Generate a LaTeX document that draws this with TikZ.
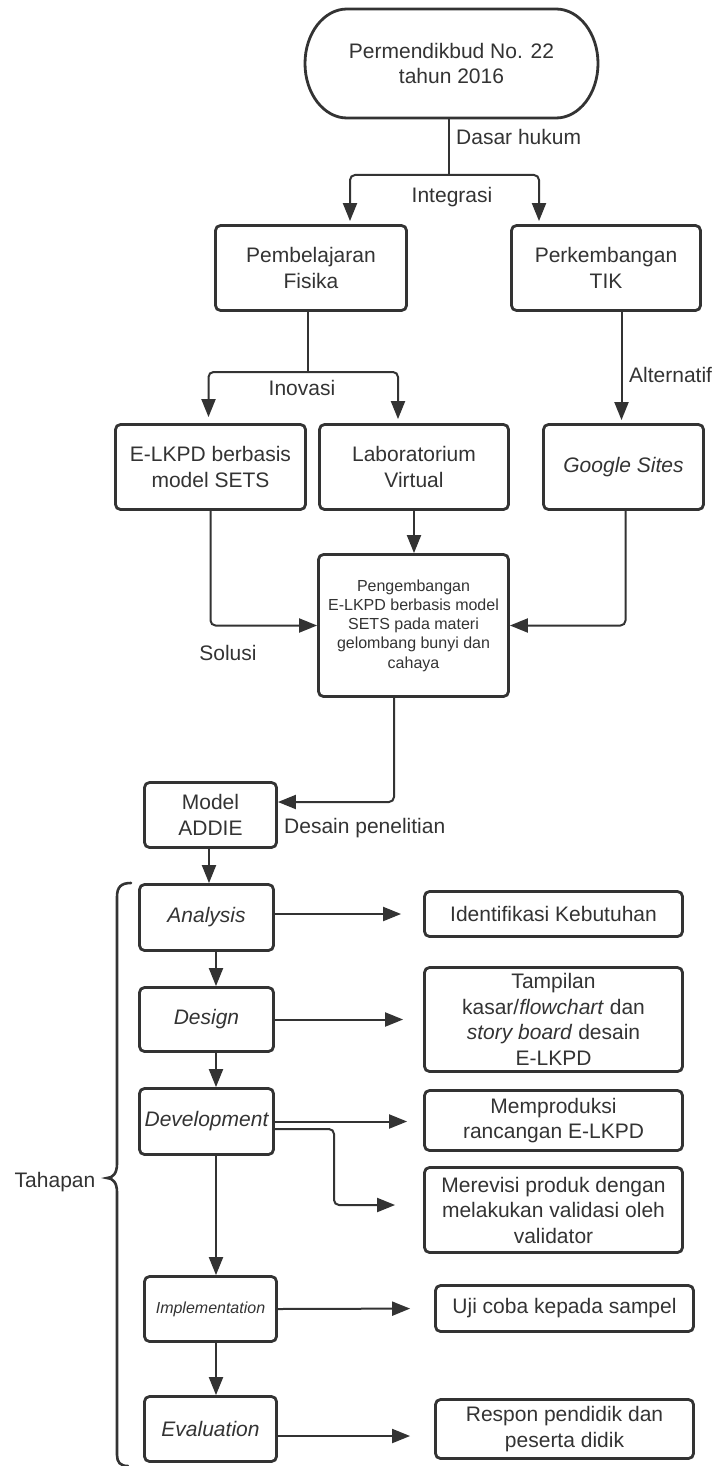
\documentclass[tikz,border=0pt]{standalone}
\usepackage{fontspec}
\setmainfont{Liberation Sans}
\usetikzlibrary{arrows.meta}
\definecolor{ink}{HTML}{333333}
\begin{document}
\begin{tikzpicture}[x=1pt,y=-1pt,
  box/.style={draw=ink, line width=2.8pt, rounded corners=5pt, inner sep=0pt, align=center, text=ink, font=\fontsize{21}{25.5}\selectfont},
  lbl/.style={text=ink, inner sep=0pt, font=\fontsize{21}{25.5}\selectfont},
  conn/.style={draw=ink, line width=2pt, rounded corners=5pt},
  arr/.style={conn, -{Triangle[length=18pt,width=14pt]}},
  brace/.style={draw=ink, line width=2.6pt, line cap=round},
]
\useasboundingbox (0,0) rectangle (724,1466);

% top terminator
\node[lbl, align=center, minimum width=293pt, minimum height=109pt] (pill) at (451.5,63.5) {Permendikbud No. 22\\tahun 2016};
\draw[ink, line width=2.8pt] (347,9) -- (556,9)
  .. controls (579.2,9) and (598,33.4) .. (598,63.5)
  .. controls (598,93.6) and (579.2,118) .. (556,118)
  -- (347,118)
  .. controls (323.8,118) and (305,93.6) .. (305,63.5)
  .. controls (305,33.4) and (323.8,9) .. (347,9) -- cycle;

% boxes
\node[box, minimum width=191pt, minimum height=85pt] (fisika) at (311,268) {Pembelajaran\\Fisika};
\node[box, minimum width=189pt, minimum height=85pt] (tik) at (606,268) {Perkembangan\\TIK};
\node[box, minimum width=190pt, minimum height=85pt] (elkpd) at (210.5,467) {E-LKPD berbasis\\model SETS};
\node[box, minimum width=189pt, minimum height=85pt] (lab) at (414,467) {Laboratorium\\Virtual};
\node[box, minimum width=160pt, minimum height=85pt] (gs) at (623.5,467) {\itshape Google Sites};
\node[box, minimum width=190pt, minimum height=142pt, font=\fontsize{16}{19.3}\selectfont] (peng) at (413.5,625.5) {Pengembangan\\E-LKPD berbasis model\\SETS pada materi\\gelombang bunyi dan\\cahaya};
\node[box, minimum width=132pt, minimum height=65pt] (addie) at (210.5,815) {Model\\ADDIE};
\node[box, minimum width=134pt, minimum height=66pt] (analysis) at (206.5,917.5) {\itshape Analysis};
\node[box, minimum width=134pt, minimum height=64pt] (design) at (206.5,1019.5) {\itshape Design};
\node[box, minimum width=134pt, minimum height=66pt] (dev) at (206.5,1121.5) {\itshape Development};
\node[box, minimum width=132pt, minimum height=65pt, font=\fontsize{16}{19}\selectfont\itshape] (impl) at (210.5,1309) {Implementation};
\node[box, minimum width=132pt, minimum height=65pt] (eval) at (210.5,1429) {\itshape Evaluation};

\node[box, minimum width=258pt, minimum height=45pt] (ident) at (553.5,914) {Identifikasi Kebutuhan};
\node[box, minimum width=258pt, minimum height=104pt] (tamp) at (553.5,1019.5) {Tampilan\\kasar/\textit{flowchart} dan\\\textit{story board} desain\\E-LKPD};
\node[box, minimum width=258pt, minimum height=60pt] (memp) at (553.5,1120.5) {Memproduksi\\rancangan E-LKPD};
\node[box, minimum width=258pt, minimum height=85pt] (merev) at (553.5,1210) {Merevisi produk dengan\\melakukan validasi oleh\\validator};
\node[box, minimum width=258pt, minimum height=46pt] (uji) at (564.5,1308.5) {Uji coba kepada sampel};
\node[box, minimum width=258pt, minimum height=59pt] (respon) at (564.5,1429) {Respon pendidik dan\\peserta didik};

% labels
\node[lbl, anchor=west] (ldasar) at (456,137) {Dasar hukum};
\node[lbl] (lintegrasi) at (452,197) {Integrasi};
\node[lbl] (linovasi) at (302,388) {Inovasi};
\node[lbl, anchor=west] (lalt) at (629,375) {Alternatif};
\node[lbl] (lsolusi) at (228,653) {Solusi};
\node[lbl, anchor=west] (ldesain) at (284,828) {Desain penelitian};
\node[lbl] (ltahapan) at (55,1182) {Tahapan};

% junction coordinates
\coordinate (j1) at (449,175);
\coordinate (j2) at (308,372);
\coordinate (j3) at (334,1205);
\coordinate (ax) at (216,0);
\coordinate (mx) at (209,0);

% connectors
\draw[conn] (pill.south -| j1) -- (j1);
\draw[arr, shorten >=3pt] (j1) -| ([xshift=39pt]fisika.north);
\draw[arr, shorten >=3pt] (j1) -| ([xshift=-67pt]tik.north);
\draw[conn] (fisika.south -| j2) -- (j2);
\draw[arr, shorten >=6pt] (j2) -| ([xshift=-2pt]elkpd.north);
\draw[arr, shorten >=4pt] (j2) -| ([xshift=-16pt]lab.north);
\draw[arr, shorten >=3pt] ([xshift=-2pt]tik.south -| gs.north) -- ([xshift=-2pt]gs.north);
\draw[arr] (lab.south) -- (peng.north -| lab.south);
\draw[arr] (elkpd.south) |- (peng.west);
\draw[arr] ([xshift=2pt]gs.south) |- (peng.east);
\draw[arr] ([xshift=-19.5pt]peng.south) |- ([yshift=13pt]addie.east);
\draw[arr] (addie.south -| mx) -- (analysis.north -| mx);
\draw[arr] (analysis.south -| ax) -- (design.north -| ax);
\draw[arr] (design.south -| ax) -- (dev.north -| ax);
\draw[arr] (dev.south -| ax) -- (impl.north -| ax);
\draw[arr] (impl.south -| ax) -- (eval.north -| ax);
\draw[arr, shorten >=22pt] (analysis.east |- ident.west) -- (ident.west);
\draw[arr, shorten >=20pt] (design.east) -- (tamp.west);
\draw[arr, shorten >=16pt] (dev.east) -- (memp.west |- dev.east);
\draw[arr, shorten >=28pt] ([yshift=-7.5pt]dev.east) -| (j3) -- (merev.west |- j3);
\draw[arr, shorten >=24pt] (impl.east) -- (uji.west);
\draw[arr, shorten >=24pt] ([yshift=-7pt]eval.east) -- ([yshift=-7pt]respon.west);

% brace
\draw[brace] (131,883) .. controls (121,883) and (117,887) .. (117,897) -- (117,1164)
  .. controls (117,1173) and (113,1178) .. (107,1178)
  .. controls (113,1178) and (117,1183) .. (117,1192) -- (117,1455)
  .. controls (117,1462) and (120,1466) .. (128,1466);
\end{tikzpicture}
\end{document}
